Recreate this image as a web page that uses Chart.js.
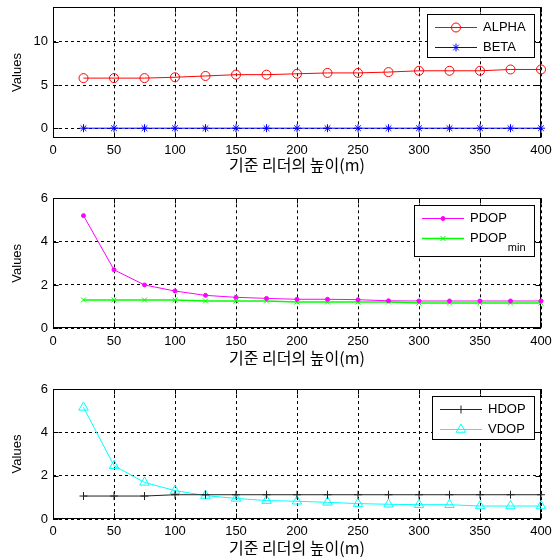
<!DOCTYPE html>
<html>
<head>
<meta charset="utf-8">
<script src="https://cdn.jsdelivr.net/npm/chart.js@4.4.1/dist/chart.umd.min.js"></script>
<style>
    body { margin: 0; background: #fff; width: 560px; height: 560px; position: relative; overflow: hidden; }
    canvas { position: absolute; left: 0; }
</style>
</head>
<body>
<canvas id="chartTop" width="560" height="183" style="top:0px"></canvas>
<canvas id="chartMiddle" width="560" height="187" style="top:183px"></canvas>
<canvas id="chartBottom" width="560" height="190" style="top:370px"></canvas>
<script>
// leader height (m)
const heights = [25, 50, 75, 100, 125, 150, 175, 200, 225, 250, 275, 300, 325, 350, 375, 400];

const alphaValues = [5.8, 5.8, 5.8, 5.9, 6.05, 6.2, 6.2, 6.3, 6.4, 6.4, 6.5, 6.65, 6.65, 6.65, 6.8, 6.8];
const betaValues = [0, 0, 0, 0, 0, 0, 0, 0, 0, 0, 0, 0, 0, 0, 0, 0];

const pdopValues = [5.2, 2.7, 2.0, 1.72, 1.52, 1.43, 1.38, 1.34, 1.34, 1.32, 1.27, 1.26, 1.26, 1.26, 1.26, 1.26];
const pdopMinValues = [1.31, 1.31, 1.31, 1.31, 1.26, 1.26, 1.26, 1.21, 1.21, 1.21, 1.21, 1.17, 1.17, 1.17, 1.17, 1.17];

const hdopValues = [1.06, 1.06, 1.06, 1.12, 1.12, 1.12, 1.12, 1.12, 1.12, 1.12, 1.12, 1.12, 1.12, 1.12, 1.12, 1.12];
const vdopValues = [5.15, 2.46, 1.69, 1.31, 1.08, 0.95, 0.85, 0.82, 0.77, 0.71, 0.68, 0.66, 0.66, 0.6, 0.6, 0.6];

const xTicks = [0, 50, 100, 150, 200, 250, 300, 350, 400];
const yTicksTop = [0, 5, 10];
const yTicksDop = [0, 2, 4, 6];

const xTitle = '기준 리더의 높이(m)';
const yTitle = 'Values';

const labelFont = '"Liberation Sans", Arial, sans-serif';

function toPoints(values) {
    return heights.map((h, i) => ({ x: h, y: values[i] }));
}

function makeDataset(label, values, color, pointStyle, radius, filled, lineWidth) {
    return {
        label: label,
        data: toPoints(values),
        borderColor: color,
        borderWidth: lineWidth || 1,
        pointStyle: pointStyle,
        pointRadius: radius,
        pointBorderColor: color,
        pointBorderWidth: 1,
        pointBackgroundColor: filled ? color : 'rgba(0,0,0,0)',
        tension: 0,
        clip: false
    };
}

// axes box, inward ticks (matlab style)
const axesBoxPlugin = {
    id: 'axesBox',
    beforeDatasetsDraw(chart) {
        const { ctx, chartArea, scales } = chart;
        const l = Math.round(chartArea.left) + 0.5;
        const r = Math.round(chartArea.right) - 0.5;
        const t = Math.round(chartArea.top) + 0.5;
        const b = Math.round(chartArea.bottom) - 0.5;
        ctx.save();
        ctx.strokeStyle = '#000';
        ctx.lineWidth = 1;
        ctx.setLineDash([]);
        ctx.strokeRect(l, t, r - l, b - t);
        ctx.beginPath();
        scales.x.ticks.forEach(tk => {
            const px = Math.round(scales.x.getPixelForValue(tk.value)) + 0.5;
            ctx.moveTo(px, b); ctx.lineTo(px, b - 5);
            ctx.moveTo(px, t); ctx.lineTo(px, t + 5);
        });
        scales.y.ticks.forEach(tk => {
            const py = Math.round(scales.y.getPixelForValue(tk.value)) + 0.5;
            ctx.moveTo(l, py); ctx.lineTo(l + 5, py);
            ctx.moveTo(r, py); ctx.lineTo(r - 5, py);
        });
        ctx.stroke();
        ctx.restore();
    },
    afterDatasetsDraw(chart) {
        drawLegend(chart);
    }
};

function drawLegend(chart) {
    const { ctx, chartArea } = chart;
    const sets = chart.data.datasets;
    ctx.save();
    ctx.font = '13px ' + labelFont;
    const subFont = '11px ' + labelFont;

    const entries = sets.map(ds => {
        const parts = ds.label.split('_');
        let w = ctx.measureText(parts[0]).width;
        if (parts[1]) {
            ctx.font = subFont;
            w += ctx.measureText(parts[1]).width + 1;
            ctx.font = '13px ' + labelFont;
        }
        return { ds: ds, main: parts[0], sub: parts[1], width: w };
    });

    const textW = Math.max(...entries.map(e => e.width));
    const boxW = Math.round(56 + textW + 9.5);
    const lastSub = !!entries[entries.length - 1].sub;
    const boxH = Math.round(12.5 + (entries.length - 1) * 20 + (lastSub ? 19.5 : 11));
    const right = Math.round(chartArea.right) - 6;
    const left = right - boxW;
    const top = Math.round(chartArea.top) + 7;

    ctx.fillStyle = '#fff';
    ctx.fillRect(left, top, boxW, boxH);
    ctx.strokeStyle = '#000';
    ctx.lineWidth = 1;
    ctx.strokeRect(left + 0.5, top + 0.5, boxW - 1, boxH - 1);

    entries.forEach((e, i) => {
        const y = Math.round(top + 12.5 + i * 20) + 0.5;
        const ds = e.ds;
        ctx.strokeStyle = ds.borderColor;
        ctx.lineWidth = ds.borderWidth;
        ctx.beginPath();
        ctx.moveTo(left + 8, y);
        ctx.lineTo(left + 50, y);
        ctx.stroke();

        ctx.lineWidth = ds.pointBorderWidth;
        ctx.fillStyle = ds.pointBackgroundColor;
        Chart.helpers.drawPoint(ctx, {
            pointStyle: ds.pointStyle,
            radius: ds.pointRadius,
            borderWidth: ds.pointBorderWidth,
            rotation: 0
        }, left + 29, y);

        ctx.fillStyle = '#000';
        ctx.textBaseline = 'middle';
        ctx.textAlign = 'left';
        ctx.font = '13px ' + labelFont;
        ctx.fillText(e.main, left + 56, y);
        if (e.sub) {
            const mw = ctx.measureText(e.main).width;
            ctx.font = subFont;
            ctx.fillText(e.sub, left + 56 + mw + 1, y + 9);
        }
    });
    ctx.restore();
}

function initialiseChart(canvasId, datasets, yMin, yMax, yTicks, areaTop, areaBottom, titleCenter) {
    const canvas = document.getElementById(canvasId);
    const h = canvas.height;
    const titleSize = 16;
    const titlePad = h - titleCenter - titleSize * 1.2 / 2;

    return new Chart(canvas.getContext('2d'), {
        type: 'line',
        data: { datasets: datasets },
        options: {
            responsive: false,
            animation: false,
            layout: { padding: { top: areaTop, right: 19, left: 0, bottom: 0 } },
            plugins: {
                legend: { display: false },
                tooltip: { enabled: false }
            },
            scales: {
                x: {
                    type: 'linear',
                    min: 0,
                    max: 400,
                    afterBuildTicks: s => { s.ticks = xTicks.map(v => ({ value: v })); },
                    afterFit: s => { s.height = h - areaBottom; s.paddingLeft = 0; s.paddingRight = 0; },
                    grid: { color: '#000', lineWidth: 1, drawTicks: false },
                    border: { display: false, dash: [3, 3] },
                    ticks: { color: '#000', font: { family: labelFont, size: 13 }, padding: 5, maxRotation: 0, autoSkip: false },
                    title: {
                        display: true,
                        text: xTitle,
                        color: '#000',
                        font: { family: '"Noto Sans CJK KR", sans-serif', size: titleSize },
                        padding: { top: 0, bottom: titlePad }
                    }
                },
                y: {
                    type: 'linear',
                    min: yMin,
                    max: yMax,
                    afterBuildTicks: s => { s.ticks = yTicks.map(v => ({ value: v })); },
                    afterFit: s => { s.width = 53; s.paddingTop = 0; s.paddingBottom = 0; },
                    grid: { color: '#000', lineWidth: 1, drawTicks: false },
                    border: { display: false, dash: [3, 3] },
                    ticks: { color: '#000', font: { family: labelFont, size: 13 }, padding: 5 },
                    title: {
                        display: true,
                        text: yTitle,
                        color: '#000',
                        font: { family: labelFont, size: 13 },
                        padding: { top: 9.5, bottom: 0 }
                    }
                }
            }
        },
        plugins: [axesBoxPlugin]
    });
}

initialiseChart('chartTop', [
    makeDataset('ALPHA', alphaValues, '#ff0000', 'circle', 4.5, false),
    makeDataset('BETA', betaValues, '#0000ff', 'star', 4, false)
], -1.1, 14, yTicksTop, 7.3, 137.7, 165);

initialiseChart('chartMiddle', [
    makeDataset('PDOP', pdopValues, '#ff00ff', 'circle', 2, true),
    makeDataset('PDOP_min', pdopMinValues, '#00ff00', 'crossRot', 3.5, false, 1.5)
], 0, 6, yTicksDop, 15.3, 145.3, 175);

initialiseChart('chartBottom', [
    makeDataset('HDOP', hdopValues, '#222222', 'cross', 4, false),
    makeDataset('VDOP', vdopValues, '#00ffff', 'triangle', 5.5, false)
], 0, 6, yTicksDop, 19, 149, 177.5);
</script>
</body>
</html>
